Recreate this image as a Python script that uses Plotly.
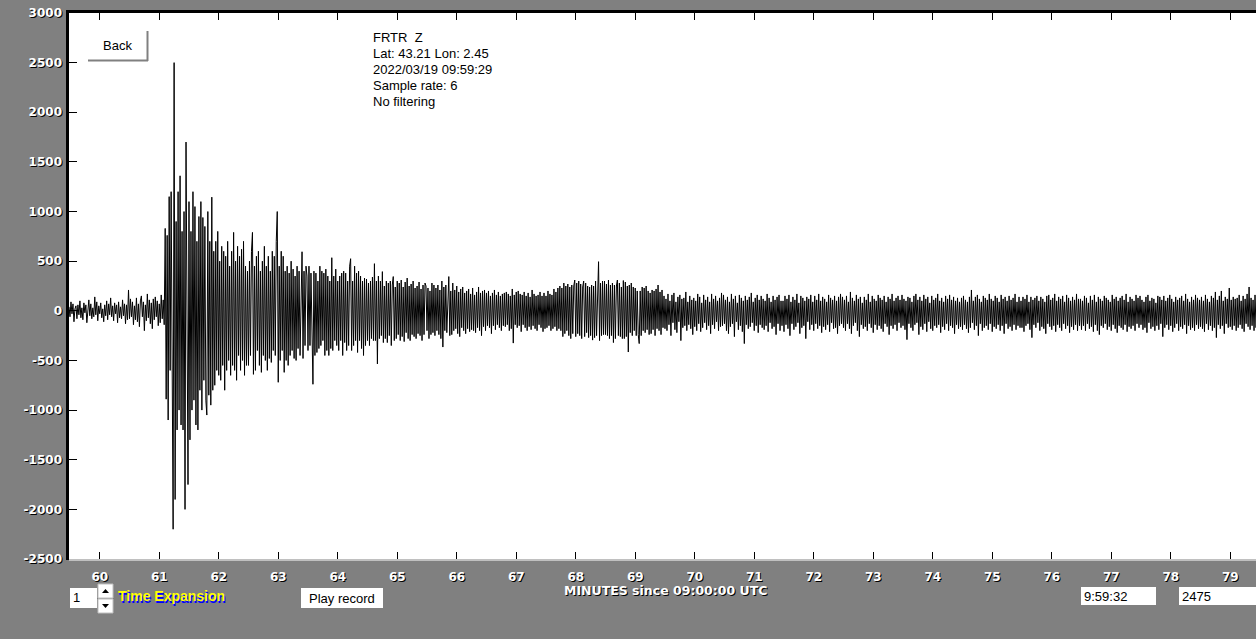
import plotly.graph_objects as go

# ---------------- data (counts, one sample per second) ----------------
station = "FRTR  Z"
location = "Lat: 43.21 Lon: 2.45"
start_stamp = "2022/03/19 09:59:29"
rate_text = "Sample rate: 6"
filter_text = "No filtering"
start_minute = 59 + 29 / 60          # 09:59:29 in minutes since 09:00:00
step_minutes = 1 / 60                # spacing of the listed samples

seg_00 = [40,-60,90,-30,70,-110,20,50,-80,60,-40,100,-70,30,-90,80,-20,60,-120,40,
          110,-50,70,-80,30,-60,140,-40,90,-100,50,-30,80,-70,20,-110,60,-50,100,-90,
          70,-40,130,-60,50,-100,80,-30,60,-120,90,-70,40,-80,110,-50,70,-130,60,-90]
seg_01 = [210,-80,120,-60,90,-140,50,-90,130,-110,70,-160,100,150,-60,90,-200,60,-100,170,
          -70,110,-130,80,-180,120,-90,140,-60,100,-150,70,-120,160,-80,110,-140,
          830,-890,760,-1100,1150,-600,1200,-900,-2200,2500,-1900,900,-1200,1200,-1000,1360,-1150,800,-1200,1000,-2000,1700,-900]
seg_02 = [-1750,1100,-1300,800,-1000,1200,-900,1050,-1150,700,-1200,950,-800,1100,-1000,940,-700,850,-900,-1050,
          1000,-850,700,-950,1145,-800,600,-750,700,-600,800,-650,500,-700,650,-550,600,-800,550,-600,
          700,-500,450,-650,600,-550,790,-600,500,-700,650,-450,550,-600,620,-500,700,-650,450,-550]
seg_03 = [400,-550,500,-450,600,790,-640,450,-600,550,-400,600,-550,400,-620,500,-450,650,-500,450,
          -600,550,-480,400,-520,600,-400,550,-450,700,1000,-720,450,-500,600,-400,550,-620,400,-500,
          450,-550,380,-450,500,-400,420,-480,350,-500,450,-380,400,-450,380,595,-480,400,-350,450]
seg_04 = [350,-400,450,-350,380,-450,-740,400,-450,380,-420,300,-380,450,-350,400,-300,380,-450,420,
          -400,350,-450,300,-380,535,-400,350,-300,420,-350,300,-400,350,-300,380,-450,400,-320,380,
          -400,300,-350,450,525,-400,300,-350,450,-300,380,-420,400,-300,350,-380,300,-450,330,-350]
seg_05 = [320,-300,280,-350,300,-280,340,-300,475,-300,300,-535,350,-280,300,-250,395,-320,250,-280,
          300,-320,280,-250,300,-350,260,345,-300,240,-280,300,-240,280,-300,310,-260,240,-310,290,
          -220,330,-280,250,-300,270,-240,300,-260,230,-280,250,-230,290,-250,220,-300,260,-240,280]
seg_06 = [250,-200,230,-280,200,-240,280,-220,260,-250,230,-200,260,-240,210,-280,300,-365,240,-200,
          260,-220,200,345,-250,200,-240,280,-200,210,-180,250,-230,190,-260,220,-170,240,-200,180,
          -230,200,-180,220,-210,170,-190,230,-200,160,-220,190,-170,240,-200,180,-250,200,-160,210]
seg_07 = [-200,180,-150,200,-170,150,-230,180,-150,210,-190,160,-140,190,-170,150,-200,170,-150,180,
          -160,190,-140,170,-200,150,-180,220,-325,160,-140,190,-170,200,-150,170,-210,160,-140,190,
          -170,150,-200,180,-160,140,-190,210,-150,170,-180,150,-200,160,-140,190,-170,150,-210,180]
seg_08 = [-180,150,-170,200,-150,170,-200,160,-180,220,-160,190,-200,230,-180,250,-200,230,-260,280,
          -230,250,-200,270,-250,240,-280,260,-230,250,310,-260,280,-230,300,-250,270,-280,240,300,
          -260,280,-220,250,-270,240,-250,260,-295,250,-270,300,-250,280,495,-300,280,-250,300,-240]
seg_09 = [300,-240,270,-250,310,-280,260,-250,280,-320,260,-280,250,310,-250,280,-260,240,-280,305,
          -280,290,-260,250,-415,260,-220,280,-250,240,-200,230,-250,200,-240,-330,200,-250,240,-200,
          230,-220,250,-190,200,-240,180,-230,210,-190,200,-250,220,-180,260,-200,190,-240,210,-170]
seg_10 = [150,-180,120,-200,170,-140,100,-250,160,-120,180,-190,90,-220,140,-110,160,-300,120,-170,
          130,-150,190,-200,90,-140,150,-180,110,-240,130,-160,100,-200,170,-130,140,-210,80,-170,
          160,-120,110,-190,140,-150,90,-230,170,-140,120,-180,150,-110,100,-200,130,-160,180,-150]
seg_11 = [160,-130,110,-200,140,-230,90,-160,170,-130,120,-260,150,-110,80,-190,160,-150,130,-210,
          100,-330,150,-140,110,-180,140,-160,180,-120,90,-200,130,-150,160,-220,110,-140,150,-170,
          120,-190,100,-150,170,-210,130,-120,90,-180,150,-160,110,-240,140,-130,160,-200,100,-150]
seg_12 = [100,-210,150,-140,120,-180,160,-250,90,-130,140,-190,110,-160,170,-120,80,-230,150,-170,
          130,-150,100,-280,140,-110,120,-190,160,-140,90,-200,150,-130,110,-180,170,-150,100,-220,
          140,-160,120,-190,90,-140,160,-210,130,-120,110,-180,150,-170,100,-230,140,-150,170,-130]
seg_13 = [140,-170,110,-200,150,-130,90,-180,190,-230,130,-150,100,-120,160,-200,120,-260,140,-140,
          80,-180,140,-160,110,-200,170,-130,90,-170,150,-220,120,-140,100,-190,160,-150,130,-180,
          110,-210,150,-130,90,-160,140,-240,120,-150,170,-180,100,-140,130,-200,150,-120,110,-170]
seg_14 = [160,-150,120,-190,100,-290,140,-130,130,-170,90,-200,150,-140,170,-120,110,-240,140,-160,
          100,-190,160,-130,120,-210,140,-110,80,-180,150,-200,110,-150,130,-170,170,-140,100,-220,
          130,-160,90,-190,150,-130,120,-200,160,-150,110,-170,140,-230,100,-140,130,-180,90,-160]
seg_15 = [130,-190,150,-140,110,-180,90,-220,140,-170,210,-120,100,-190,140,-150,160,-250,120,-130,
          90,-200,150,-170,130,-150,110,-190,170,-130,120,-210,100,-160,150,-180,130,-140,90,-200,
          160,-150,120,-230,140,-130,100,-180,150,-160,110,-200,130,-140,170,-190,90,-150,140,-170]
seg_16 = [100,-170,140,-210,120,-150,160,-130,90,-190,140,-270,110,-140,130,-170,150,-120,100,-200,
          140,-160,120,-180,90,-230,150,-130,160,-160,110,-190,130,-150,170,-210,100,-140,140,-170,
          120,-200,150,-130,90,-180,160,-150,130,-220,100,-160,140,-190,110,-140,170,-200,120,-150]
seg_17 = [120,-190,100,-150,150,-200,130,-130,80,-180,150,-160,110,-210,160,-140,90,-200,140,-240,
          120,-150,100,-170,150,-130,130,-190,110,-160,90,-200,160,-140,120,-180,140,-220,100,-150,
          130,-170,150,-190,110,-140,170,-210,90,-160,140,-180,120,-150,100,-200,160,-130,130,-170]
seg_18 = [150,-140,110,-190,90,-170,140,-220,160,-120,100,-180,130,-160,120,-200,80,-150,150,-190,
          140,-130,110,-260,150,-170,100,-140,130,-190,160,-150,120,-210,90,-170,140,-130,110,-200,
          130,-160,150,-180,100,-140,170,-230,120,-150,90,-190,140,-170,110,-200,160,-140,130,-180]
seg_19 = [110,-160,140,-180,100,-210,160,-130,120,-190,90,-150,150,-200,130,-170,190,-270,110,-140,
          150,-180,200,-150,100,-230,140,-130,120,-170,230,-160,110,-190,140,-150,120,-200,130,-170,
          160,-140,100,-180,150,-210,120,-130,170,-160,240,-190,130,-150,110,-200,160,-170,120,-140]

segments = [seg_00, seg_01, seg_02, seg_03, seg_04, seg_05, seg_06, seg_07, seg_08, seg_09,
            seg_10, seg_11, seg_12, seg_13, seg_14, seg_15, seg_16, seg_17, seg_18, seg_19]

y_ticks = [-2500, -2000, -1500, -1000, -500, 0, 500, 1000, 1500, 2000, 2500, 3000]
x_ticks = list(range(60, 80))
x_title = "MINUTES since 09:00:00 UTC"
expansion_value = "1"
cursor_time = "9:59:32"
cursor_value = "2475"

counts = [v for seg in segments for v in seg]
minutes = [start_minute + i * step_minutes for i in range(len(counts))]

# ---------------- figure ----------------
W, H = 1256, 639
PL, PR, PT, PB = 69, 1256, 13, 559


def fx(x):
    return (x - PL) / (PR - PL)


def fy(y):
    return (PB - y) / (PB - PT)


GRAY = "#808080"
tick_font = dict(family="DejaVu Sans", size=12, color="white", weight="bold",
                 shadow="1px 1px 0px #000000")
ui_font = dict(family="Liberation Sans, Arial", size=13, color="black")

fig = go.Figure()
fig.add_trace(go.Scatter(x=minutes, y=counts, mode="lines",
                         line=dict(color="black", width=1),
                         hoverinfo="skip", showlegend=False))

shapes = []
annotations = []


def rect(x0, y0, x1, y1, fill, line_color=None, lw=0):
    shapes.append(dict(type="rect", xref="paper", yref="paper",
                       x0=fx(x0), x1=fx(x1), y0=fy(y0), y1=fy(y1),
                       fillcolor=fill, line=dict(color=line_color or fill, width=lw),
                       layer="above"))


def hline(x0, x1, y, color, w):
    shapes.append(dict(type="line", xref="paper", yref="paper",
                       x0=fx(x0), x1=fx(x1), y0=fy(y), y1=fy(y),
                       line=dict(color=color, width=w), layer="above"))


def vline(x, y0, y1, color, w):
    shapes.append(dict(type="line", xref="paper", yref="paper",
                       x0=fx(x), x1=fx(x), y0=fy(y0), y1=fy(y1),
                       line=dict(color=color, width=w), layer="above"))


def label(text, x, y, font, anchor="left"):
    annotations.append(dict(text=text, xref="paper", yref="paper",
                            x=fx(x), y=fy(y), xanchor=anchor, yanchor="middle",
                            showarrow=False, font=font, borderpad=0))


# frame lines
vline(67.5, 10.5, 560, "black", 3)
hline(66, 1256, 11.5, "black", 3)

# Back button
rect(87, 30, 148, 61, "white")
hline(88, 148, 60.5, GRAY, 2)
vline(147.5, 31, 61, GRAY, 2)
label("Back", 117, 45, ui_font, "center")

# info text block
for i, t in enumerate([station, location, start_stamp, rate_text, filter_text]):
    label(t, 372, 38 + 16 * i, ui_font)

# bottom controls
rect(70, 588, 97, 608, "white")
label(expansion_value, 72, 597, ui_font)
rect(98, 584, 113, 598, "white", "#c0c0c0", 1)
rect(98, 599, 113, 613, "white", "#c0c0c0", 1)
for (cx, cy, up) in [(105.5, 591, True), (105.5, 606, False)]:
    if up:
        pts = [(cx - 3.5, cy + 2), (cx + 3.5, cy + 2), (cx, cy - 2)]
    else:
        pts = [(cx - 3.5, cy - 2), (cx + 3.5, cy - 2), (cx, cy + 2)]
    path = "M " + " L ".join(f"{fx(a)},{fy(b)}" for a, b in pts) + " Z"
    shapes.append(dict(type="path", xref="paper", yref="paper", path=path,
                       fillcolor="black", line=dict(width=0), layer="above"))
label("Time Expansion", 117, 596,
      dict(family="Liberation Sans, Arial", size=14, color="#ffff00", weight="bold",
           shadow="1px 2px 0px #0000ff"))
rect(301, 588, 383, 608, "white")
label("Play record", 342, 598, ui_font, "center")
rect(1081, 587, 1156, 605, "white")
label(cursor_time, 1083, 596, ui_font)
rect(1179, 587, 1262, 605, "white")
label(cursor_value, 1181, 596, ui_font)

# axis title
label(x_title, 666, 590, dict(family="DejaVu Sans", size=12.5, color="white",
                              weight="bold", shadow="1px 1px 0px #000000"), "center")

fig.update_layout(
    width=W, height=H,
    margin=dict(l=PL, r=W - PR, t=PT, b=H - PB),
    paper_bgcolor=GRAY, plot_bgcolor="white",
    showlegend=False,
    shapes=shapes, annotations=annotations,
    xaxis=dict(range=[start_minute, start_minute + (PR - PL) / 59.5],
               tickvals=x_ticks, ticktext=[str(v) for v in x_ticks],
               ticks="inside", ticklen=7, tickwidth=1, tickcolor="black",
               showline=True, linecolor="#c0c0c0", linewidth=2, mirror="ticks",
               showgrid=False, zeroline=False, tickfont=tick_font,
               ticklabelstandoff=6, fixedrange=True),
    yaxis=dict(range=[-2500, 3000], tickvals=y_ticks,
               ticktext=[str(v) for v in y_ticks],
               ticks="inside", ticklen=8, tickwidth=1, tickcolor="black",
               showline=False, showgrid=False, zeroline=False, tickfont=tick_font,
               ticklabelstandoff=6, fixedrange=True),
)

fig.write_html("out.html", config={"displayModeBar": False},
               post_script="document.body.style.margin='0px';document.body.style.overflow='hidden';")
